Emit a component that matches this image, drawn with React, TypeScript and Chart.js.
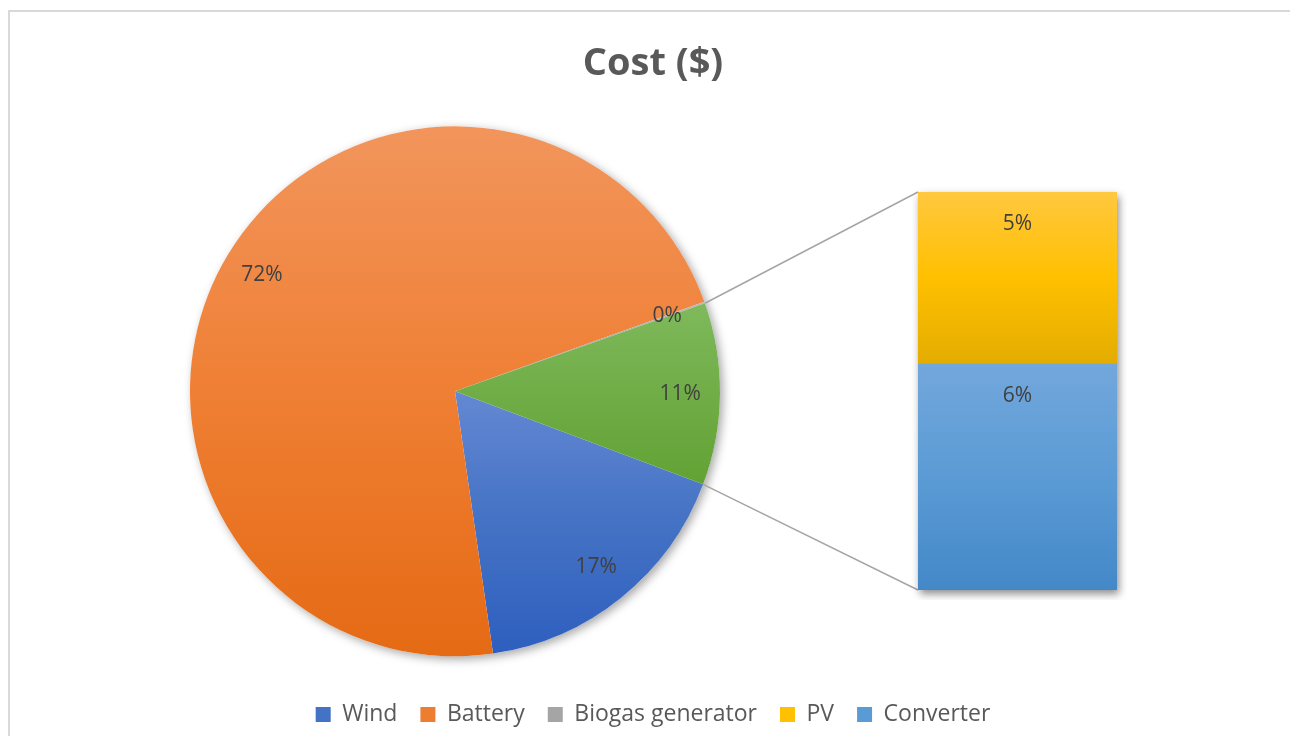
import React, { useEffect, useRef } from "react";
import { Chart, registerables } from "chart.js";

Chart.register(...registerables);

// ---- data ----
const categories = ["Wind", "Battery", "Biogas generator", "PV", "Converter"];
const costShare = [17.0, 71.8, 0.1, 4.8, 6.3]; // share of total cost (%)
const pieCategories = ["Wind", "Battery", "Biogas generator"];
const barCategories = ["PV", "Converter"]; // top to bottom in the secondary bar
const otherLabel = "Other";
const titleText = "Cost ($)";

// ---- styles ----
const baseColors = ["#4472C4", "#ED7D31", "#A5A5A5", "#FFC000", "#5B9BD5"];
const otherColor = "#70AD47";
const gradientStops: Record<string, [string, string, string]> = {
  "#4472C4": ["#6488D3", "#4472C4", "#2E5FBF"],
  "#ED7D31": ["#F2955C", "#EF7F34", "#E56A14"],
  "#A5A5A5": ["#B8B8B8", "#A5A5A5", "#929292"],
  "#FFC000": ["#FFC83F", "#FFC000", "#E3AC00"],
  "#5B9BD5": ["#72A7DC", "#5B9BD5", "#4488C8"],
  "#70AD47": ["#7FB95C", "#70AD47", "#62A234"],
};
const FONT = "'Open Sans', sans-serif";
const PIE_RADIUS = 265;
const PIE_CENTER_X = 445;
const ROTATION = 110.55;
const LABEL_COLOR = "#404040";
const TEXT_COLOR = "#595959";

function makeGradient(ctx2d: CanvasRenderingContext2D, base: string, y0: number, y1: number) {
  if (!isFinite(y0) || !isFinite(y1) || y0 === y1) return base;
  const s = gradientStops[base] || [base, base, base];
  const g = ctx2d.createLinearGradient(0, y0, 0, y1);
  g.addColorStop(0, s[0]);
  g.addColorStop(0.5, s[1]);
  g.addColorStop(1, s[2]);
  return g;
}

export default function App() {
  const pieRef = useRef<HTMLCanvasElement>(null);
  const barRef = useRef<HTMLCanvasElement>(null);

  useEffect(() => {
    const valueOf = (c: string) => costShare[categories.indexOf(c)];
    const colorOf = (c: string) => baseColors[categories.indexOf(c)];
    const total = costShare.reduce((a, b) => a + b, 0);
    const barSum = barCategories.reduce((s, c) => s + valueOf(c), 0);
    const pieValues = [...pieCategories.map(valueOf), barSum];
    const pieLabels = [...pieCategories, otherLabel];
    const pieColors = [...pieCategories.map(colorOf), otherColor];
    const pieTotal = pieValues.reduce((a, b) => a + b, 0);
    const barOrder = [...barCategories].reverse(); // first dataset = bottom of stack

    // ---------- secondary stacked bar ----------
    const barShadow = {
      id: "barShadow",
      beforeDatasetsDraw(chart: any) {
        const els = barOrder.map((_, i) => chart.getDatasetMeta(i).data[0]).filter(Boolean);
        if (!els.length) return;
        const left = Math.min(...els.map((e: any) => e.x - e.width / 2));
        const right = Math.max(...els.map((e: any) => e.x + e.width / 2));
        const top = Math.min(...els.map((e: any) => Math.min(e.y, e.base)));
        const bottom = Math.max(...els.map((e: any) => Math.max(e.y, e.base)));
        const c = chart.ctx;
        c.save();
        c.shadowColor = "rgba(0,0,0,0.45)";
        c.shadowBlur = 8;
        c.shadowOffsetX = 2;
        c.shadowOffsetY = 4;
        c.fillStyle = "#ffffff";
        c.fillRect(left, top, right - left, bottom - top);
        c.restore();
      },
    };
    const barLabels = {
      id: "barLabels",
      afterDatasetsDraw(chart: any) {
        const c = chart.ctx;
        c.save();
        c.font = `21px ${FONT}`;
        c.fillStyle = LABEL_COLOR;
        c.textAlign = "center";
        c.textBaseline = "middle";
        barOrder.forEach((cat, i) => {
          const el = chart.getDatasetMeta(i).data[0];
          if (!el) return;
          const top = Math.min(el.y, el.base);
          c.fillText(Math.round((valueOf(cat) / total) * 100) + "%", el.x, top + 32);
        });
        c.restore();
      },
    };

    const barChart = new Chart(barRef.current!, {
      type: "bar",
      data: {
        labels: [otherLabel],
        datasets: barOrder.map((cat, i) => ({
          label: cat,
          data: [valueOf(cat)],
          borderWidth: 0,
          barPercentage: 1,
          categoryPercentage: 1,
          backgroundColor: (ctx: any) => {
            const chart = ctx.chart;
            const y = chart.scales && chart.scales.y;
            if (!y) return colorOf(cat);
            const lower = barOrder.slice(0, i).reduce((s, c) => s + valueOf(c), 0);
            const upper = lower + valueOf(cat);
            return makeGradient(chart.ctx, colorOf(cat), y.getPixelForValue(upper), y.getPixelForValue(lower));
          },
        })),
      },
      options: {
        responsive: false,
        animation: false,
        events: [],
        layout: { padding: 10 },
        plugins: { legend: { display: false }, title: { display: false }, tooltip: { enabled: false } },
        scales: {
          x: { display: false, stacked: true },
          y: { display: false, stacked: true, min: 0, max: barSum },
        },
      } as any,
      plugins: [barShadow, barLabels],
    });

    // ---------- main pie ----------
    const centerShift = {
      id: "centerShift",
      afterLayout(chart: any) {
        const a = chart.chartArea;
        const w = Math.min(a.width, PIE_RADIUS * 2);
        a.left = PIE_CENTER_X - w / 2;
        a.right = PIE_CENTER_X + w / 2;
        a.width = w;
      },
    };

    const sliceExtent = (chart: any, index: number) => {
      const a = chart.chartArea;
      const cy = (a.top + a.bottom) / 2;
      const r = PIE_RADIUS;
      const before = pieValues.slice(0, index).reduce((s, v) => s + v, 0);
      const start = (ROTATION * Math.PI) / 180 - Math.PI / 2 + (before / pieTotal) * Math.PI * 2;
      const end = start + (pieValues[index] / pieTotal) * Math.PI * 2;
      const ys = [cy, cy + r * Math.sin(start), cy + r * Math.sin(end)];
      for (let k = -4; k <= 8; k++) {
        const ang = -Math.PI / 2 + k * Math.PI;
        if (ang > start && ang < end) ys.push(cy + r * Math.sin(ang));
      }
      return [Math.min(...ys), Math.max(...ys)];
    };

    const pieShadow = {
      id: "pieShadow",
      beforeDatasetsDraw(chart: any) {
        const el = chart.getDatasetMeta(0).data[0];
        if (!el) return;
        const c = chart.ctx;
        c.save();
        c.shadowColor = "rgba(0,0,0,0.35)";
        c.shadowBlur = 10;
        c.shadowOffsetX = 3;
        c.shadowOffsetY = 3;
        c.fillStyle = "#ffffff";
        c.beginPath();
        c.arc(el.x, el.y, el.outerRadius, 0, Math.PI * 2);
        c.fill();
        c.restore();
      },
    };

    const pieDataLabels = {
      id: "pieDataLabels",
      afterDatasetsDraw(chart: any) {
        const c = chart.ctx;
        c.save();
        c.font = `21px ${FONT}`;
        c.fillStyle = LABEL_COLOR;
        c.textAlign = "center";
        c.textBaseline = "middle";
        chart.getDatasetMeta(0).data.forEach((el: any, i: number) => {
          const mid = (el.startAngle + el.endAngle) / 2;
          const r = el.outerRadius * 0.85;
          c.fillText(
            Math.round((pieValues[i] / pieTotal) * 100) + "%",
            el.x + r * Math.cos(mid),
            el.y + r * Math.sin(mid)
          );
        });
        c.restore();
      },
    };

    const connectors = {
      id: "connectors",
      afterDraw(chart: any) {
        const el = chart.getDatasetMeta(0).data[pieValues.length - 1];
        if (!el || !barRef.current) return;
        const pr = chart.canvas.getBoundingClientRect();
        const br = barRef.current.getBoundingClientRect();
        const dx = br.left - pr.left;
        const dy = br.top - pr.top;
        const area = barChart.chartArea;
        const r = el.outerRadius;
        const c = chart.ctx;
        c.save();
        c.strokeStyle = "#A5A5A5";
        c.lineWidth = 1.5;
        c.beginPath();
        c.moveTo(el.x + r * Math.cos(el.startAngle), el.y + r * Math.sin(el.startAngle));
        c.lineTo(dx + area.left, dy + area.top);
        c.moveTo(el.x + r * Math.cos(el.endAngle), el.y + r * Math.sin(el.endAngle));
        c.lineTo(dx + area.left, dy + area.bottom);
        c.stroke();
        c.restore();
      },
    };

    const pieChart = new Chart(pieRef.current!, {
      type: "pie",
      data: {
        labels: pieLabels,
        datasets: [
          {
            data: pieValues,
            borderWidth: 0,
            hoverOffset: 0,
            radius: PIE_RADIUS,
            backgroundColor: (ctx: any) => {
              const chart = ctx.chart;
              const base = pieColors[ctx.dataIndex];
              if (!chart.chartArea || ctx.dataIndex === undefined) return base;
              const [y0, y1] = sliceExtent(chart, ctx.dataIndex);
              return makeGradient(chart.ctx, base, y0, y1);
            },
          },
        ],
      },
      options: {
        responsive: false,
        animation: false,
        events: [],
        rotation: ROTATION,
        plugins: {
          title: {
            display: true,
            text: titleText,
            color: TEXT_COLOR,
            font: { family: FONT, size: 38, weight: "bold" },
            padding: { top: 29, bottom: 16 },
          },
          legend: {
            position: "bottom",
            labels: {
              boxWidth: 15,
              boxHeight: 15,
              padding: 23,
              color: TEXT_COLOR,
              font: { family: FONT, size: 23 },
              generateLabels: () =>
                categories.map((c, i) => ({
                  text: c,
                  fillStyle: baseColors[i],
                  strokeStyle: baseColors[i],
                  lineWidth: 0,
                  hidden: false,
                  index: i,
                  fontColor: TEXT_COLOR,
                })),
            },
          },
          tooltip: { enabled: false },
        },
      } as any,
      plugins: [centerShift, pieShadow, pieDataLabels, connectors],
    });

    return () => {
      pieChart.destroy();
      barChart.destroy();
    };
  }, []);

  return (
    <div
      style={{
        position: "relative",
        top: 2,
        width: 1290,
        height: 728,
        border: "2px solid #D9D9D9",
        borderBottom: "none",
        boxSizing: "border-box",
        background: "#ffffff",
        overflow: "hidden",
      }}
    >
      <canvas ref={pieRef} width={1286} height={724} style={{ position: "absolute", left: 0, top: 0 }} />
      <canvas ref={barRef} width={219} height={418} style={{ position: "absolute", left: 898, top: 170 }} />
    </div>
  );
}
